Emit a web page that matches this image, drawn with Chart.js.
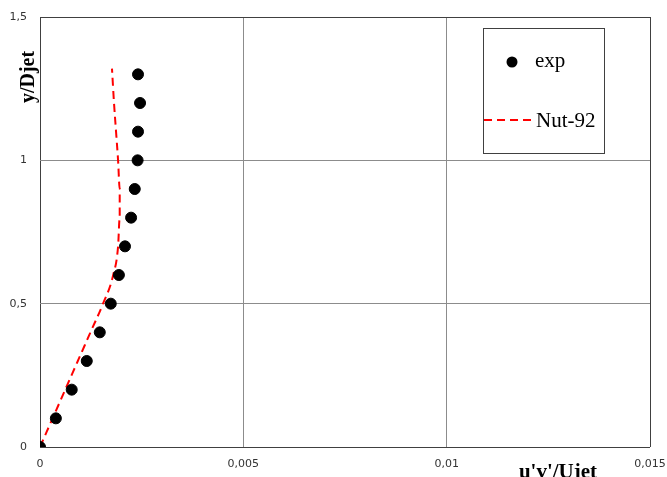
<!DOCTYPE html>
<html>
<head>
<meta charset="utf-8">
<script src="https://cdn.jsdelivr.net/npm/chart.js@4/dist/chart.umd.min.js"></script>
<style>
  html, body { margin: 0; padding: 0; background: #fff; }
  #wrap { width: 667px; height: 477px; }
</style>
</head>
<body>
<div id="wrap"><canvas id="chart" width="667" height="477"></canvas></div>
<script>
// données
const expY = [0, 0.1, 0.2, 0.3, 0.4, 0.5, 0.6, 0.7, 0.8, 0.9, 1.0, 1.1, 1.2, 1.3];
const expX = [0, 0.00039, 0.00078, 0.00115, 0.00147, 0.00174, 0.00194, 0.00209, 0.00224, 0.00233, 0.0024, 0.00241, 0.00246, 0.00241];
const nutY = [0, 0.1, 0.2, 0.3, 0.4, 0.5, 0.6, 0.7, 0.8, 0.9, 1.0, 1.1, 1.2, 1.32];
const nutX = [0, 0.00031, 0.00062, 0.00093, 0.00124, 0.00155, 0.0018, 0.00192, 0.00196, 0.00196, 0.00192, 0.00187, 0.00182, 0.00177];
const xTicks = [0, 0.005, 0.01, 0.015];
const yTicks = [0, 0.5, 1, 1.5];
const seriesNames = ['exp', 'Nut-92'];

const fmt = v => String(+v.toFixed(4)).replace('.', ',');

// zone du tracé fixée comme sur l'original
const AREA = { left: 40, top: 17, right: 650, bottom: 447 };

// légende + titres des axes
const decor = {
    id: 'decor',
    afterDraw(chart) {
        const ctx = chart.ctx;
        const a = chart.chartArea;
        ctx.save();
        // légende
        const bx = a.right - 167, by = a.top + 11, bw = 121, bh = 125;
        ctx.fillStyle = '#fff';
        ctx.fillRect(bx, by, bw, bh);
        ctx.strokeStyle = '#404040';
        ctx.lineWidth = 1;
        ctx.strokeRect(bx + 0.5, by + 0.5, bw, bh);
        ctx.fillStyle = '#000';
        ctx.beginPath();
        ctx.arc(bx + 29, by + 34, 5.5, 0, Math.PI * 2);
        ctx.fill();
        ctx.strokeStyle = '#ff0000';
        ctx.lineWidth = 2;
        ctx.setLineDash([8, 5]);
        ctx.beginPath();
        ctx.moveTo(bx + 1, by + 92);
        ctx.lineTo(bx + 50, by + 92);
        ctx.stroke();
        ctx.setLineDash([]);
        ctx.fillStyle = '#000';
        ctx.font = '21px "Liberation Serif", "Times New Roman", serif';
        ctx.textBaseline = 'middle';
        ctx.textAlign = 'left';
        ctx.fillText(seriesNames[0], bx + 52, by + 33);
        ctx.fillText(seriesNames[1], bx + 53, by + 93);
        // titres
        ctx.font = 'bold 21px "Liberation Serif", "Times New Roman", serif';
        ctx.textAlign = 'center';
        ctx.textBaseline = 'alphabetic';
        ctx.fillText("u'v'/Ujet", 558, 478);
        ctx.translate(34, 77);
        ctx.rotate(-Math.PI / 2);
        ctx.font = 'bold 20px "Liberation Serif", "Times New Roman", serif';
        ctx.fillText('y/Djet', 0, 0);
        ctx.restore();
    }
};

const gridColor = (ctx, last) => {
    const v = ctx.tick ? ctx.tick.value : 0;
    return (v === 0 || v === last) ? '#404040' : '#8c8c8c';
};

new Chart(document.getElementById('chart'), {
    type: 'scatter',
    data: {
        datasets: [
            {
                label: seriesNames[0],
                data: expX.map((x, i) => ({ x: x, y: expY[i] })),
                backgroundColor: '#000',
                borderColor: '#000',
                pointRadius: 5.5,
                showLine: false
            },
            {
                label: seriesNames[1],
                data: nutX.map((x, i) => ({ x: x, y: nutY[i] })),
                borderColor: '#ff0000',
                borderWidth: 2,
                borderDash: [8, 5],
                pointRadius: 0,
                showLine: true,
                cubicInterpolationMode: 'monotone'
            }
        ]
    },
    options: {
        responsive: false,
        animation: false,
        layout: { padding: 0 },
        plugins: { legend: { display: false }, tooltip: { enabled: false } },
        scales: {
            x: {
                type: 'linear',
                min: 0, max: 0.015,
                afterBuildTicks: s => { s.ticks = xTicks.map(v => ({ value: v })); },
                afterFit: s => { s.height = 477 - AREA.bottom; s.paddingLeft = 0; s.paddingRight = 0; },
                grid: { color: c => gridColor(c, 0.015), drawTicks: false },
                border: { display: false },
                ticks: {
                    padding: 11,
                    color: '#333',
                    font: { family: '"DejaVu Sans", sans-serif', size: 11 },
                    callback: v => fmt(v),
                    maxRotation: 0
                }
            },
            y: {
                type: 'linear',
                min: 0, max: 1.5,
                afterBuildTicks: s => { s.ticks = yTicks.map(v => ({ value: v })); },
                afterFit: s => { s.width = AREA.left; s.paddingTop = 0; s.paddingBottom = 0; },
                grid: { color: c => gridColor(c, 1.5), drawTicks: false },
                border: { display: false },
                ticks: {
                    padding: 13,
                    color: '#333',
                    font: { family: '"DejaVu Sans", sans-serif', size: 11 },
                    callback: v => fmt(v)
                }
            }
        }
    },
    plugins: [decor, {
        id: 'fixArea',
        beforeInit(chart) {
            chart.options.layout.padding = { top: AREA.top, right: 667 - AREA.right, left: 0, bottom: 0 };
        }
    }]
});
</script>
</body>
</html>
